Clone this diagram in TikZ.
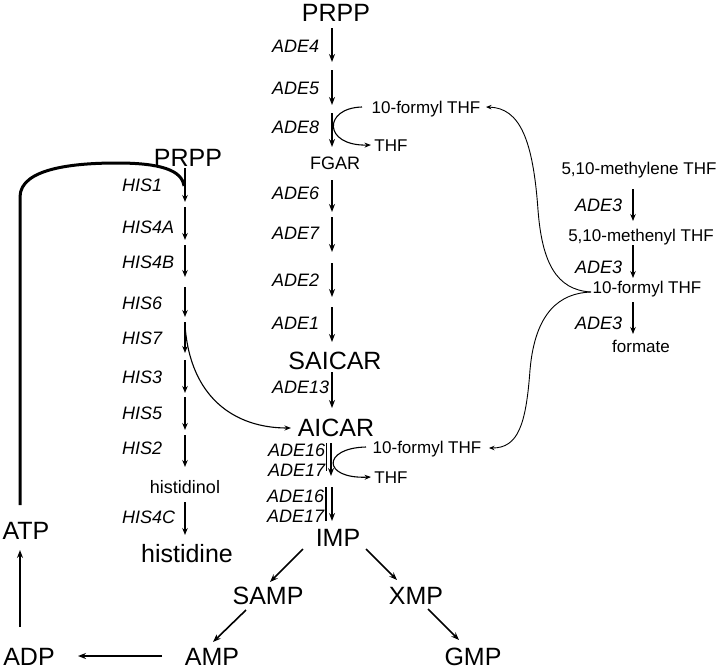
\documentclass[tikz,border=0pt]{standalone}
\usepackage{fontspec}
\setmainfont{Liberation Sans}
\usetikzlibrary{arrows.meta}
\begin{document}
\begin{tikzpicture}[x=1pt,y=-1pt,
 big/.style={font=\fontsize{25}{30}\selectfont, inner sep=0pt, text height=18pt, text depth=0pt},
 med/.style={font=\fontsize{18}{21}\selectfont, inner sep=0pt, text height=13pt, text depth=0pt},
 sm/.style={font=\fontsize{17}{20}\selectfont, inner sep=0pt, text height=12.2pt, text depth=0pt},
 enz/.style={font=\fontsize{18}{21}\selectfont\itshape, inner sep=0pt, text height=13pt, text depth=0pt, anchor=west},
 arr/.style={line width=1.6pt, -{Stealth[length=8pt,width=6pt]}},
 harr/.style={line width=1.4pt, -{Stealth[length=7pt,width=5.5pt]}},
 thinarr/.style={line width=1.1pt, -{Stealth[length=6.5pt,width=5pt]}},
 bracearr/.style={line width=0.9pt, -{Stealth[length=5.5pt,width=4.5pt]}},
 barline/.style={line width=1.4pt},
 thickline/.style={line width=3pt}]
\useasboundingbox (0,0) rectangle (720,670);

% ---- big metabolites
\node[big] (prppA) at (336,12) {PRPP};
\node[big] (prppH) at (188,157) {PRPP};
\node[big] (saicar) at (335,360) {SAICAR};
\node[big] (aicar) at (336,427) {AICAR};
\node[big] (imp) at (338,537) {IMP};
\node[big] (samp) at (268,595) {SAMP};
\node[big] (xmp) at (416,595) {XMP};
\node[big] (amp) at (212,656) {AMP};
\node[big] (gmp) at (473,656) {GMP};
\node[big] (adp) at (29,656) {ADP};
\node[big] (atp) at (26,530) {ATP};
\node[big] (histidine) at (187,553) {histidine};
\node[med] (fgar) at (335,163) {FGAR};
\node[med] (histidinol) at (185,487) {histidinol};

% ---- small metabolites
\node[sm] (fthfA) at (426,107) {10-formyl THF};
\node[sm] (thfA) at (391,145) {THF};
\node[sm] (fthfB) at (427,447) {10-formyl THF};
\node[sm] (thfB) at (391,477) {THF};
\node[sm] (mthf) at (639,168) {5,10-methylene THF};
\node[sm] (menthf) at (641,235) {5,10-methenyl THF};
\node[sm] (fthfR) at (647,287) {10-formyl THF};
\node[sm] (formate) at (641,346) {formate};

% ---- ADE enzymes
\node[enz] (ade4) at (272,46) {ADE4};
\node[enz] (ade5) at (272,88) {ADE5};
\node[enz] (ade8) at (272,127) {ADE8};
\node[enz] (ade6) at (272,193) {ADE6};
\node[enz] (ade7) at (272,233) {ADE7};
\node[enz] (ade2) at (272,280) {ADE2};
\node[enz] (ade1) at (272,323) {ADE1};
\node[enz] (ade13) at (272,387) {ADE13};
\node[enz] (ade16a) at (268,450) {ADE16};
\node[enz] (ade17a) at (268,470) {ADE17};
\node[enz] (ade16b) at (267,496) {ADE16};
\node[enz] (ade17b) at (267,516) {ADE17};
\node[enz] (ade3a) at (575,205) {ADE3};
\node[enz] (ade3b) at (575,267) {ADE3};
\node[enz] (ade3c) at (575,323) {ADE3};

% ---- HIS enzymes
\node[enz] (his1) at (122,185) {HIS1};
\node[enz] (his4a) at (122,227) {HIS4A};
\node[enz] (his4b) at (122,262) {HIS4B};
\node[enz] (his6) at (122,303) {HIS6};
\node[enz] (his7) at (122,338) {HIS7};
\node[enz] (his3) at (122,377) {HIS3};
\node[enz] (his5) at (122,413) {HIS5};
\node[enz] (his2) at (122,448) {HIS2};
\node[enz] (his4c) at (122,517) {HIS4C};

% ---- ADE column arrows
\foreach \n/\a/\b in {1/28/62, 2/70/105, 3/113/147, 4/180/212, 5/217/252, 6/263/297, 7/307/342, 8/372/408}{
  \coordinate (as\n) at (332,\a); \coordinate (ae\n) at (332,\b);
  \draw[arr] (as\n) -- (ae\n);
}
\coordinate (as9) at (331,443); \coordinate (ae9) at (331,476);
\draw[arr] (as9) -- (ae9);
\coordinate (bs9) at (326.5,443); \coordinate (be9) at (326.5,471);
\draw[barline] (bs9) -- (be9);
\coordinate (as10) at (332,487); \coordinate (ae10) at (332,521);
\draw[arr] (as10) -- (ae10);
\coordinate (bs10) at (326,487); \coordinate (be10) at (326,521);
\draw[barline] (bs10) -- (be10);

% ---- HIS column arrows
\foreach \n/\a/\b in {1/168/202, 2/207/240, 3/245/277, 4/287/317, 5/322/353, 6/360/393, 7/397/430, 8/435/467, 9/502/535}{
  \coordinate (hs\n) at (185,\a); \coordinate (he\n) at (185,\b);
  \draw[harr] (hs\n) -- (he\n);
}

% ---- ADE3 arrows
\foreach \n/\a/\b in {1/189/221, 2/245/278, 3/302/334}{
  \coordinate (rs\n) at (633,\a); \coordinate (re\n) at (633,\b);
  \draw[harr] (rs\n) -- (re\n);
}

% ---- bottom arrows
\coordinate (i1) at (303,549); \coordinate (i2) at (270,582);
\draw[arr] (i1) -- (i2);
\coordinate (i3) at (366,549); \coordinate (i4) at (397,580);
\draw[arr] (i3) -- (i4);
\coordinate (s1) at (246,610); \coordinate (s2) at (213,642);
\draw[arr] (s1) -- (s2);
\coordinate (x1) at (428,609); \coordinate (x2) at (459,640);
\draw[arr] (x1) -- (x2);
\coordinate (m1) at (162,656); \coordinate (m2) at (78,656);
\draw[arr] (m1) -- (m2);
\coordinate (d1) at (20,627); \coordinate (d2) at (20,550);
\draw[arr] (d1) -- (d2);

% ---- HIS -> AICAR
\coordinate (hx) at (185,325); \coordinate (hy) at (291,428);
\draw[thinarr] (hx) .. controls (190,398) and (235,428) .. (hy);

% ---- THF exchanges
\coordinate (fa1) at (362,107); \coordinate (fa2) at (371,145);
\draw[thinarr] (fa1) .. controls (323,108) and (323,146) .. (fa2);
\coordinate (fb1) at (366,447); \coordinate (fb2) at (371,477);
\draw[thinarr] (fb1) .. controls (322,448) and (322,479) .. (fb2);

% ---- brace from right 10-formyl THF
\coordinate (br) at (591,292);
\coordinate (tA) at (486,107);
\coordinate (tB) at (489,448);
\draw[bracearr] (br) .. controls (556,290) and (542,262) .. (538,210)
  .. controls (533,140) and (520,108) .. (tA);
\draw[bracearr] (br) .. controls (560,293) and (535,312) .. (530,370)
  .. controls (526,425) and (518,448) .. (tB);

% ---- ATP thick line
\coordinate (t0) at (20,505); \coordinate (t1) at (184,186);
\draw[thickline] (t0) -- (20,197) .. controls (20,168) and (75,163) .. (117,163)
  .. controls (160,163) and (182,170) .. (t1);
\end{tikzpicture}
\end{document}
